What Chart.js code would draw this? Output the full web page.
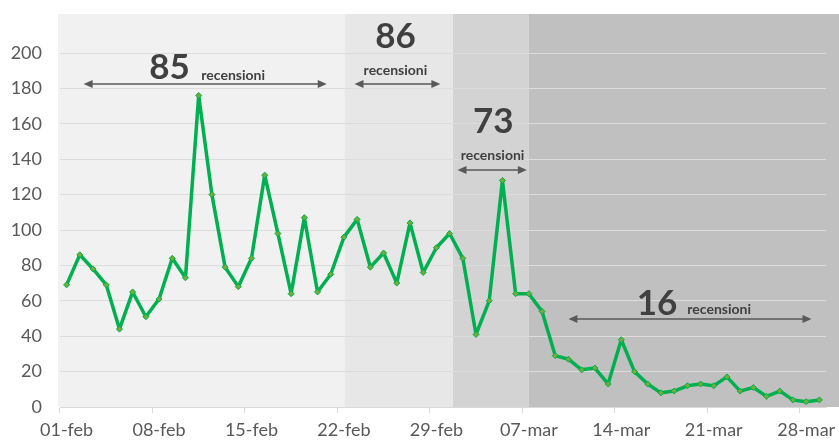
<!DOCTYPE html>
<html>
<head>
<meta charset="utf-8">
<script src="https://cdn.jsdelivr.net/npm/chart.js@4"></script>
<style>
  html, body { margin: 0; padding: 0; background: #ffffff; }
  #wrap { width: 839px; height: 445px; position: relative; }
</style>
</head>
<body>
<div id="wrap"><canvas id="chart" width="839" height="445"></canvas></div>
<script>
/* ----- dati ----- */
const giorni = [
  "01-feb","02-feb","03-feb","04-feb","05-feb","06-feb","07-feb","08-feb","09-feb","10-feb",
  "11-feb","12-feb","13-feb","14-feb","15-feb","16-feb","17-feb","18-feb","19-feb","20-feb",
  "21-feb","22-feb","23-feb","24-feb","25-feb","26-feb","27-feb","28-feb","29-feb",
  "01-mar","02-mar","03-mar","04-mar","05-mar","06-mar","07-mar","08-mar","09-mar","10-mar",
  "11-mar","12-mar","13-mar","14-mar","15-mar","16-mar","17-mar","18-mar","19-mar","20-mar",
  "21-mar","22-mar","23-mar","24-mar","25-mar","26-mar","27-mar","28-mar","29-mar"
];

const recensioni = [
  69, 86, 78, 69, 44, 65, 51, 61, 84, 73,
  176, 120, 79, 68, 84, 131, 98, 64, 107, 65,
  75, 96, 106, 79, 87, 70, 104, 76, 90,
  98, 84, 41, 60, 128, 64, 64, 54, 29, 27,
  21, 22, 13, 38, 20, 13, 8, 9, 12, 13,
  12, 17, 9, 11, 6, 9, 4, 3, 4
];

const yTicks = [0, 20, 40, 60, 80, 100, 120, 140, 160, 180, 200];

// medie per periodo (annotazioni)
const medie = ["85", "86", "73", "16"];
const etichetta = "recensioni";

/* ----- sfondi dei periodi + annotazioni ----- */
const periodiPlugin = {
  id: "periodi",
  beforeDraw(chart) {
    const { ctx, scales: { x }, chartArea } = chart;
    const bordi = [
      chartArea.left - 2,
      x.getPixelForValue(21.05),
      x.getPixelForValue(29.25),
      x.getPixelForValue(35),
      chart.width
    ];
    const colori = ["#f1f1f1", "#e7e7e7", "#d3d3d3", "#c1c0c1"];
    ctx.save();
    for (let i = 0; i < 4; i++) {
      ctx.fillStyle = colori[i];
      ctx.fillRect(bordi[i], 14, bordi[i + 1] - bordi[i], chartArea.bottom - 14);
    }
    ctx.restore();
  },
  afterDraw(chart) {
    const { ctx, scales: { x, y } } = chart;
    const px = v => x.getPixelForValue(v);
    const py = v => y.getPixelForValue(v);

    function freccia(x1, x2, yy, doppia) {
      ctx.save();
      ctx.strokeStyle = "#595959";
      ctx.fillStyle = "#595959";
      ctx.lineWidth = 1.5;
      ctx.beginPath();
      ctx.moveTo(x1 + 4, yy);
      ctx.lineTo(x2 - 4, yy);
      ctx.stroke();
      const punta = (xt, dir) => {
        ctx.beginPath();
        ctx.moveTo(xt, yy);
        ctx.lineTo(xt - dir * 9, yy - 4);
        ctx.lineTo(xt - dir * 9, yy + 4);
        ctx.closePath();
        ctx.fill();
      };
      punta(x2, 1);
      if (doppia) punta(x1, -1);
      ctx.restore();
    }

    function testo(t, xx, yy, size, align) {
      ctx.save();
      ctx.fillStyle = "#404040";
      ctx.font = "bold " + size + "px Lato";
      ctx.textAlign = align;
      ctx.textBaseline = "alphabetic";
      ctx.fillText(t, xx, yy);
      ctx.restore();
    }

    // 85 recensioni
    freccia(px(1.29), px(19.7), py(182.5), true);
    testo(medie[0], px(7.8), py(185.3), 35, "center");
    testo(etichetta, px(10.2), py(184.8), 14, "left");

    // 86 recensioni
    freccia(px(21.8), px(28.3), py(182.5), true);
    testo(medie[1], px(24.9), py(202.8), 35, "center");
    testo(etichetta, px(24.9), py(187.3), 14, "center");

    // 73 recensioni
    freccia(px(29.6), px(34.85), py(133.9), true);
    testo(medie[2], px(32.3), py(154.8), 35, "center");
    testo(etichetta, px(32.25), py(139.5), 14, "center");

    // 16 recensioni
    freccia(px(38.0), px(56.4), py(49.7), true);
    testo(medie[3], px(44.7), py(52), 35, "center");
    testo(etichetta, px(47.0), py(52.5), 14, "left");
  }
};

Chart.defaults.font.family = "Lato";
Chart.defaults.color = "#595959";

new Chart(document.getElementById("chart"), {
  type: "line",
  data: {
    labels: giorni,
    datasets: [{
      data: recensioni,
      borderColor: "#00b050",
      borderWidth: 3.5,
      borderJoinStyle: "round",
      borderCapStyle: "round",
      tension: 0,
      pointStyle: "rectRot",
      pointRadius: 3,
      pointBackgroundColor: "#6fae3a",
      pointBorderColor: "#00b050",
      pointBorderWidth: 1
    }]
  },
  options: {
    responsive: false,
    devicePixelRatio: 1,
    animation: false,
    layout: { padding: { top: 53, right: 13, left: 0, bottom: 0 } },
    plugins: {
      legend: { display: false },
      tooltip: { enabled: false }
    },
    scales: {
      x: {
        offset: true,
        afterFit: s => { s.height = 38; },
        border: { display: true, color: "#d9d9d9", width: 1 },
        grid: {
          offset: true,
          drawOnChartArea: false,
          tickLength: 6,
          color: c => (c.index % 7 === 0 ? "#d9d9d9" : "rgba(0,0,0,0)")
        },
        ticks: {
          autoSkip: false,
          maxRotation: 0,
          padding: 6,
          font: { size: 18 },
          callback: function (v, i) { return i % 7 === 0 ? giorni[i] : ""; }
        }
      },
      y: {
        min: 0,
        max: 200,
        afterFit: s => { s.width = 60; },
        afterBuildTicks: s => { s.ticks = yTicks.map(v => ({ value: v })); },
        border: { display: false },
        grid: { color: "#dcdcdc", lineWidth: 1, drawTicks: false },
        ticks: { padding: 18, font: { size: 18 } }
      }
    }
  },
  plugins: [periodiPlugin]
});
</script>
</body>
</html>
